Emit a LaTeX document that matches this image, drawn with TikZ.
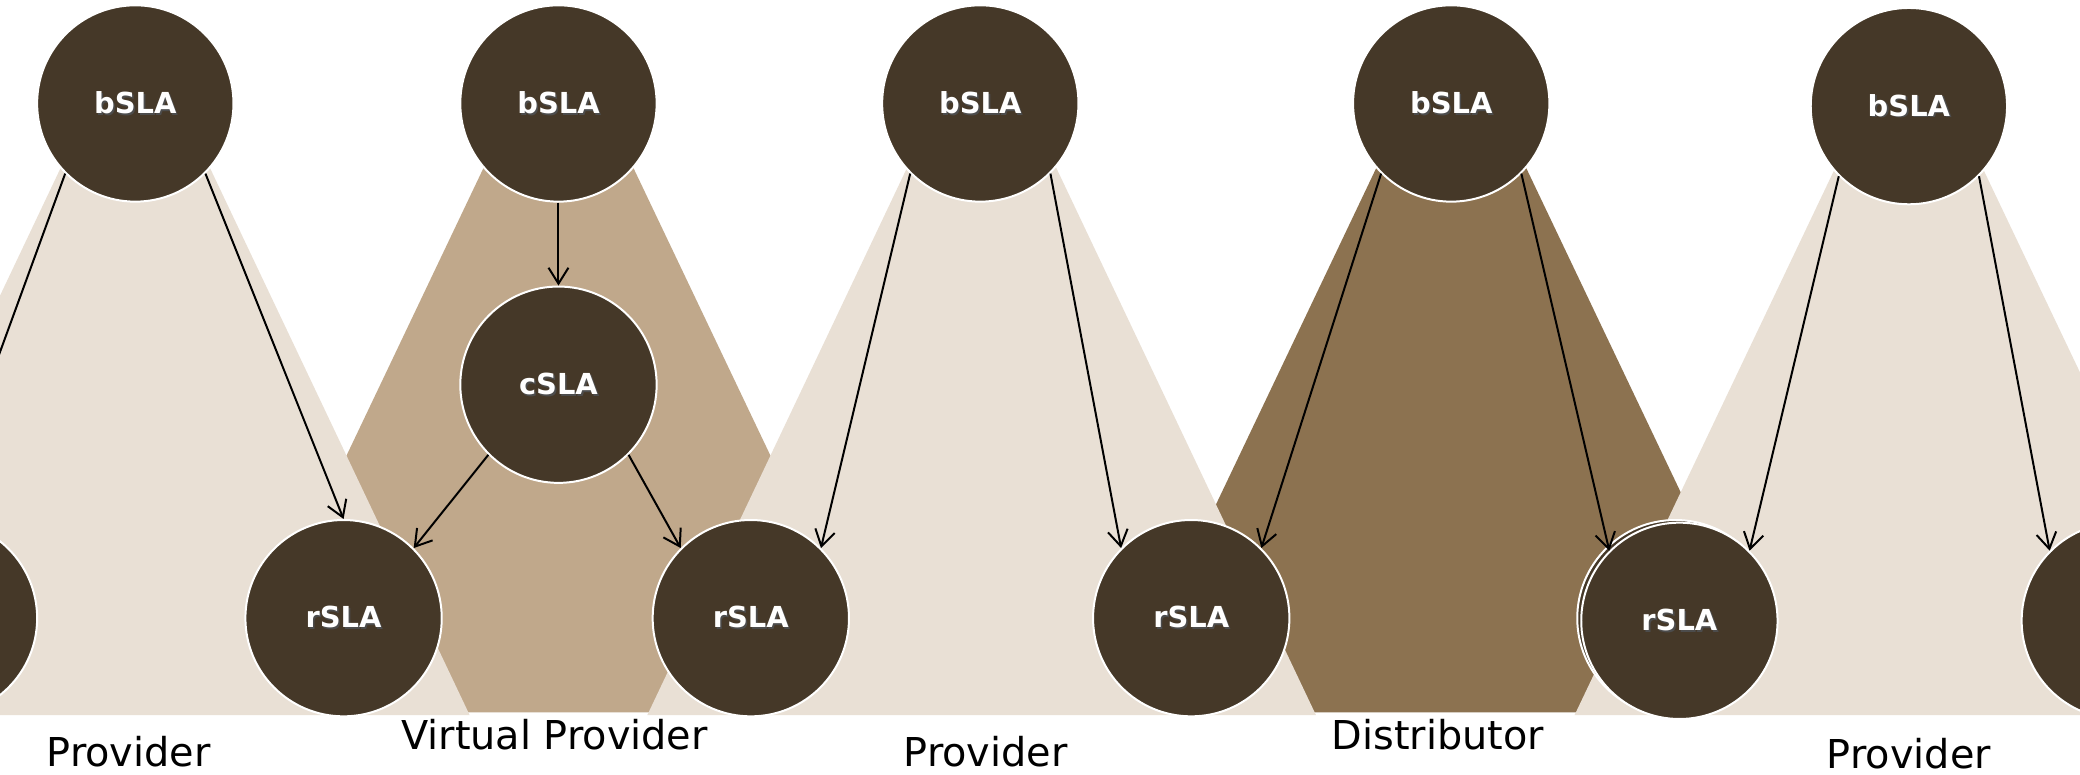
\documentclass[tikz,border=0pt]{standalone}
\usepackage{fontspec}
\setmainfont{DejaVu Sans}
\usetikzlibrary{arrows.meta}
\definecolor{lightc}{RGB}{233,224,213}
\definecolor{tanc}{RGB}{192,168,139}
\definecolor{brownc}{RGB}{140,114,80}
\definecolor{sladark}{RGB}{69,56,40}
\newcommand{\shtext}[1]{\rlap{\hspace{0.6pt}\raisebox{-0.6pt}{\textcolor{black!70}{#1}}}#1}
\tikzset{
  sla/.style={circle, fill=sladark, draw=white, line width=0.75pt, minimum size=74pt,
    inner sep=0pt, text=white, font=\bfseries\fontsize{10.9}{12}\selectfont},
  conn/.style={draw=black, line width=0.75pt, -{Straight Barb[length=6pt,width=7.5pt,line width=0.75pt]}},
  lbl/.style={anchor=base, font=\fontsize{15}{18}\selectfont, text=black, inner sep=0pt}
}
\begin{document}
\begin{tikzpicture}[x=0.5pt,y=-0.5pt]
\useasboundingbox (0,0) rectangle (1568,584);
\clip (0,0) rectangle (1568,584);
\fill[white] (0,0) rectangle (1568,584);
% dark panels
\fill[tanc] (421,8) -- (673,537) -- (169,537) -- cycle;
\fill[brownc] (1094,8) -- (1346,537) -- (842,537) -- cycle;
% light panels
\fill[lightc] (102,8) -- (354,539) -- (-150,539) -- cycle;
\fill[lightc] (740,8) -- (992,539) -- (488,539) -- cycle;
\fill[lightc] (1439,10) -- (1691,539) -- (1187,539) -- cycle;
% nodes
\node[sla] (b1) at (102,78) {\shtext{bSLA}};
\node[sla] (r1a) at (-46,466) {};
\node[sla] (r1b) at (259,466) {\shtext{rSLA}};
\node[sla] (b2) at (421,78) {\shtext{bSLA}};
\node[sla] (c2) at (421,290) {\shtext{cSLA}};
\node[sla] (b3) at (739,78) {\shtext{bSLA}};
\node[sla] (r3a) at (566,466) {\shtext{rSLA}};
\node[sla] (r3b) at (898,466) {\shtext{rSLA}};
\node[sla] (b4) at (1094,78) {\shtext{bSLA}};
\node[sla] (r4ghost) at (1263,466) {};
\node[sla] (r4) at (1266,468) {\shtext{rSLA}};
\node[sla] (b5) at (1439,80) {\shtext{bSLA}};
\node[sla] (r5b) at (1598,468) {};
% connectors
\draw[conn] (b1.-135) -- (r1a.90);
\draw[conn] (b1.-45) -- (r1b.90);
\draw[conn] (b2.-90) -- (c2.90);
\draw[conn] (c2.-135) -- (r1b.45);
\draw[conn] (c2.-45) -- (r3a.135);
\draw[conn] (b3.-135) -- (r3a.45);
\draw[conn] (b3.-45) -- (r3b.135);
\draw[conn] (b4.-135) -- (r3b.45);
\draw[conn] (b4.-45) -- (r4.135);
\draw[conn] (b5.-135) -- (r4.45);
\draw[conn] (b5.-45) -- (r5b.135);
% labels
\node[lbl] (l1) at (97,578) {Provider};
\node[lbl] (l2) at (418,565) {Virtual Provider};
\node[lbl] (l3) at (743,578) {Provider};
\node[lbl] (l4) at (1084,565) {Distributor};
\node[lbl] (l5) at (1439,579) {Provider};
\end{tikzpicture}
\end{document}
